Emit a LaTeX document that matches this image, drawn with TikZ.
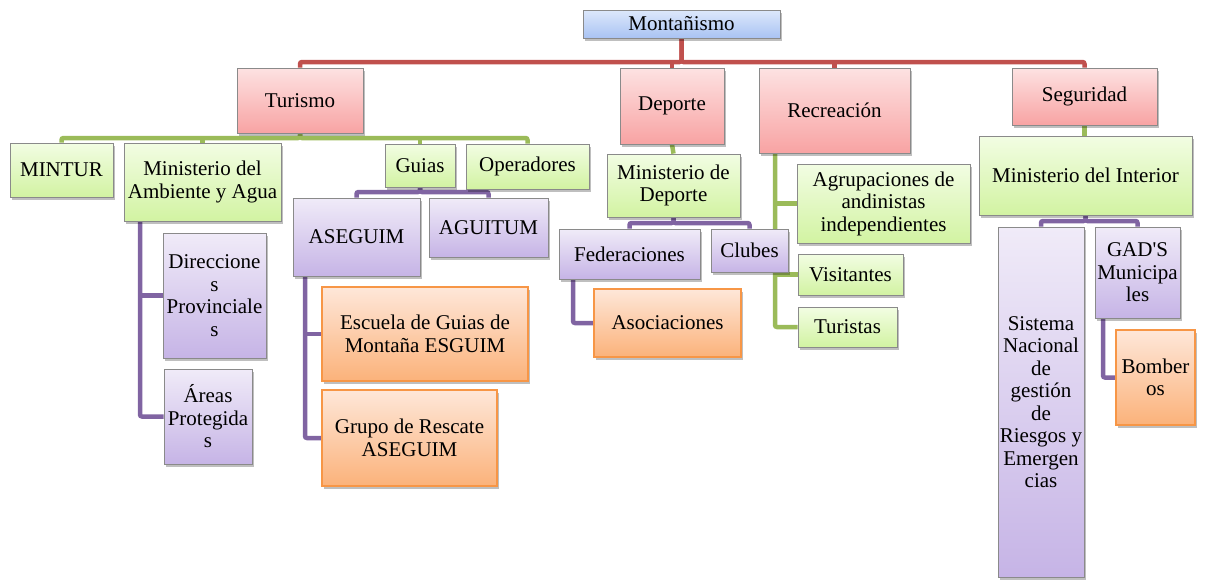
\documentclass[tikz,border=0pt]{standalone}
\usepackage{fontspec}
\setmainfont{Liberation Serif}
\newfontfamily\plainserif{Liberation Serif}
\usetikzlibrary{backgrounds,shadows}
\definecolor{bluetop}{HTML}{DDE8FB}
\definecolor{bluebot}{HTML}{A9C3F3}
\definecolor{redtop}{HTML}{FDE2E2}
\definecolor{redbot}{HTML}{F8A3A3}
\definecolor{greentop}{HTML}{F2FDE3}
\definecolor{greenbot}{HTML}{D2F3A2}
\definecolor{purptop}{HTML}{F0EBF8}
\definecolor{purpbot}{HTML}{C6B4E6}
\definecolor{orangetop}{HTML}{FEE7D9}
\definecolor{orangebot}{HTML}{FBB27A}
\definecolor{boxline}{HTML}{8A8A8A}
\definecolor{orangeline}{HTML}{F79646}
\definecolor{redconn}{HTML}{C0504D}
\definecolor{greenconn}{HTML}{9BBB59}
\definecolor{purpconn}{HTML}{8064A2}
\tikzset{
  box/.style={draw=boxline, line width=0.8pt, align=center, inner sep=1pt,
    font=\fontsize{21}{22.5}\selectfont,
    drop shadow={shadow xshift=1.5pt, shadow yshift=-2.5pt, opacity=0.25, fill=black}},
  bluebox/.style={box, top color=bluetop, bottom color=bluebot},
  redbox/.style={box, top color=redtop, bottom color=redbot},
  greenbox/.style={box, top color=greentop, bottom color=greenbot},
  purpbox/.style={box, top color=purptop, bottom color=purpbot},
  orangebox/.style={box, draw=orangeline, line width=1.2pt, top color=orangetop, bottom color=orangebot},
  conn/.style={line width=4.5pt, rounded corners=2pt},
  redc/.style={conn, draw=redconn},
  greenc/.style={conn, draw=greenconn},
  purpc/.style={conn, draw=purpconn},
}
\newcommand{\bx}[7]{% style, name, x1, y1, x2, y2, text
  \node[#1, minimum width={#5-#3}, minimum height={#6-#4}] (#2) at ({(#3+#5)/2},{(#4+#6)/2}) {#7};}
\begin{document}
\begin{tikzpicture}[x=1pt, y=-1pt]
\useasboundingbox (0,0) rectangle (1205,579);
\bx{bluebox}{mont}{583}{10}{780}{38}{Montañismo}
\bx{redbox}{tur}{237}{68}{363}{133}{Turismo}
\bx{redbox}{dep}{620}{68}{724}{144}{Deporte}
\bx{redbox}{rec}{759}{68}{910}{153}{Recreación}
\bx{redbox}{seg}{1012}{68}{1157}{125}{Seguridad}
\bx{greenbox}{mintur}{10}{143}{113}{197}{MINTUR}
\bx{greenbox}{mamb}{124}{143}{281}{221}{Ministerio del\\Ambiente y Agua}
\bx{greenbox}{guias}{385}{144}{455}{187}{Guias}
\bx{greenbox}{oper}{466}{144}{589}{189}{Operadores}
\bx{purpbox}{aseg}{293}{198}{420}{276}{ASEGUIM}
\bx{purpbox}{agui}{429}{198}{548}{257}{AGUITUM}
\bx{purpbox}{dirp}{163}{233}{266}{358}{Direccione\\s\\Provinciale\\s}
\bx{purpbox}{areas}{164}{369}{252}{464}{Áreas\\Protegida\\s}
\bx{orangebox}{esc}{322}{287}{528}{381}{Escuela de Guias de\\Montaña ESGUIM}
\bx{orangebox}{grupo}{322}{390}{497}{486}{Grupo de Rescate\\ASEGUIM}
\bx{greenbox}{mdep}{607}{154}{740}{217}{Ministerio de\\Deporte}
\bx{purpbox}{fed}{559}{229}{700}{279}{Federaciones}
\bx{purpbox}{clubes}{711}{229}{788}{272}{Clubes}
\bx{orangebox}{asoc}{594}{289}{741}{357}{Asociaciones}
\bx{greenbox}{agr}{797}{164}{970}{243}{Agrupaciones de\\andinistas\\independientes}
\bx{greenbox}{vis}{798}{254}{903}{295}{Visitantes}
\bx{greenbox}{turi}{798}{307}{897}{347}{Turistas}
\bx{greenbox}{mint}{979}{136}{1192}{215}{Ministerio del Interior}
\bx{purpbox}{sist}{998}{227}{1084}{577}{Sistema\\Nacional\\de\\gestión\\de\\Riesgos y\\Emergen\\cias}
\bx{purpbox}{gad}{1095}{227}{1180}{318}{{\plainserif GAD'S}\\Municipa\\les}
\bx{orangebox}{bomb}{1116}{330}{1195}{425}{Bomber\\os}
\begin{pgfonlayer}{background}
  % level 1
  \draw[redc] (mont.south) -- (mont.south |- 0,62) -| (tur.north);
  \draw[redc] (mont.south) -- (mont.south |- 0,62) -| (seg.north);
  \draw[redc] (dep.north |- 0,62) -- (dep.north);
  \draw[redc] (rec.north |- 0,62) -- (rec.north);
  % Turismo
  \draw[greenc] (tur.south) -- (tur.south |- 0,138) -| (mintur.north);
  \draw[greenc] (tur.south) -- (tur.south |- 0,138) -| (oper.north);
  \draw[greenc] (mamb.north |- 0,138) -- (mamb.north);
  \draw[greenc] (guias.north |- 0,138) -- (guias.north);
  % Guias
  \draw[purpc] (guias.south) -- (guias.south |- 0,192) -| (aseg.north);
  \draw[purpc] (guias.south) -- (guias.south |- 0,192) -| (agui.north);
  % Ministerio del Ambiente
  \coordinate (mambx) at (140,221);
  \draw[purpc] (mambx) |- (areas.west);
  \draw[purpc] (mambx |- dirp.west) -- (dirp.west);
  % ASEGUIM
  \coordinate (asegx) at (305,276);
  \draw[purpc] (asegx) |- (grupo.west);
  \draw[purpc] (asegx |- esc.west) -- (esc.west);
  % Deporte
  \draw[greenc] (dep.south) -- (mdep.north);
  \draw[purpc] (mdep.south) -- (mdep.south |- 0,223) -| (fed.north);
  \draw[purpc] (mdep.south) -- (mdep.south |- 0,223) -| (clubes.north);
  \coordinate (fedx) at (573,279);
  \draw[purpc] (fedx) |- (asoc.west);
  % Recreacion
  \coordinate (recx) at (775,153);
  \draw[greenc] (recx) |- (turi.west);
  \draw[greenc] (recx |- agr.west) -- (agr.west);
  \draw[greenc] (recx |- vis.west) -- (vis.west);
  % Seguridad
  \draw[greenc] (seg.south) -- (seg.south |- mint.north);
  \draw[purpc] (mint.south) -- (mint.south |- 0,221) -| (sist.north);
  \draw[purpc] (mint.south) -- (mint.south |- 0,221) -| (gad.north);
  \coordinate (gadx) at (1103,318);
  \draw[purpc] (gadx) |- (bomb.west);
\end{pgfonlayer}
\end{tikzpicture}
\end{document}
